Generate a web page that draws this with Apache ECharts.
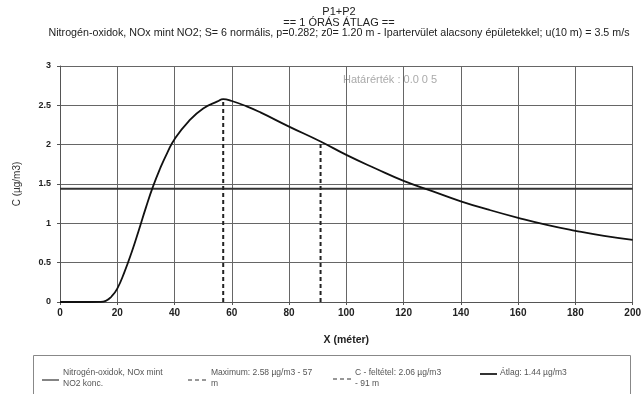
<!DOCTYPE html>
<html>
<head>
<meta charset="utf-8">
<script src="https://cdn.jsdelivr.net/npm/echarts@6/dist/echarts.min.js"></script>
<style>html,body{margin:0;padding:0;background:#fff;}#c{width:644px;height:394px;}</style>
</head>
<body>
<div id="c"></div>
<script>
const titleLines = ["P1+P2", "== 1 ÓRÁS ÁTLAG ==", "Nitrogén-oxidok, NOx mint NO2; S= 6 normális, p=0.282; z0= 1.20 m - Ipartervület alacsony épületekkel; u(10 m) = 3.5 m/s"];
const distances = [0, 10, 14, 16, 18, 20, 22.5, 25, 27.5, 30, 32.5, 35, 37.5, 40, 45, 50, 55, 57, 60, 65, 70, 80, 91, 100, 110, 120, 130, 140, 150, 160, 170, 180, 190, 200];
const concentrations = [0, 0, 0.002, 0.015, 0.07, 0.17, 0.38, 0.63, 0.91, 1.20, 1.47, 1.70, 1.90, 2.07, 2.30, 2.46, 2.55, 2.58, 2.555, 2.49, 2.41, 2.23, 2.04, 1.87, 1.70, 1.54, 1.41, 1.28, 1.17, 1.07, 0.98, 0.905, 0.84, 0.79];
const maxX = [57, 57];
const maxY = [0, 2.58];
const condX = [91, 91];
const condY = [0, 2.04];
const avgX = [0, 200];
const avgY = [1.44, 1.44];
const legendTexts = [
  ["Nitrogén-oxidok, NOx mint", "NO2 konc."],
  ["Maximum: 2.58 µg/m3 - 57", "m"],
  ["C - feltétel: 2.06 µg/m3", "- 91 m"],
  ["Átlag: 1.44 µg/m3"]
];
const limitText = "Határérték : 0.0 0 5";

const zip = (a, b) => a.map((v, i) => [v, b[i]]);
const font = "'Liberation Sans', Arial, sans-serif";
const chart = echarts.init(document.getElementById('c'), null, {renderer: 'canvas'});

const legendGraphics = [];
legendGraphics.push({type: 'rect', shape: {x: 33.5, y: 355.5, width: 597, height: 60}, style: {fill: '#fff', stroke: '#888', lineWidth: 1}});
const items = [
  {x0: 42, x1: 59, y: 380, dash: null, w: 1.2, tx: 63},
  {x0: 188, x1: 208, y: 380, dash: [4, 3], w: 1.2, tx: 211},
  {x0: 333, x1: 352, y: 379, dash: [4, 3], w: 1.2, tx: 355},
  {x0: 480, x1: 497, y: 374, dash: null, w: 2, tx: 500}
];
items.forEach((it, i) => {
  legendGraphics.push({type: 'line', shape: {x1: it.x0, y1: it.y, x2: it.x1, y2: it.y}, style: {stroke: '#333', lineWidth: it.w, lineDash: it.dash}});
  legendTexts[i].forEach((t, j) => {
    legendGraphics.push({type: 'text', x: it.tx, y: 368 + j * 11, style: {text: t, fill: '#555', font: '8.5px ' + font}});
  });
});

const titleGraphics = titleLines.map((t, i) => ({
  type: 'text', x: 339, y: 6 + i * 11,
  style: {text: t, fill: '#222', font: (i === 2 ? '10.7px ' : '11px ') + font, align: 'center'}
}));

chart.setOption({
  animation: false,
  backgroundColor: '#fff',
  grid: {left: 60, right: 7, top: 66, bottom: 92, show: false},
  xAxis: {
    type: 'value', min: 0, max: 200, interval: 20,
    name: 'X (méter)', nameLocation: 'middle', nameGap: 33,
    nameTextStyle: {fontFamily: font, fontSize: 10.5, color: '#222', fontWeight: 'bold'},
    axisLine: {show: true, onZero: false, lineStyle: {color: '#555', width: 1}},
    axisTick: {show: true, length: 3, lineStyle: {color: '#555'}},
    axisLabel: {fontFamily: font, fontSize: 10, color: '#222', fontWeight: 'bold', margin: 6},
    splitLine: {show: true, lineStyle: {color: '#666', width: 1}}
  },
  yAxis: {
    type: 'value', min: 0, max: 3, interval: 0.5,
    name: 'C (µg/m3)', nameLocation: 'middle', nameGap: 38, nameRotate: 90,
    nameTextStyle: {fontFamily: font, fontSize: 10, color: '#333'},
    axisLine: {show: true, onZero: false, lineStyle: {color: '#555', width: 1}},
    axisTick: {show: true, length: 3, lineStyle: {color: '#555'}},
    axisLabel: {fontFamily: font, fontSize: 9, color: '#222', fontWeight: 'bold', margin: 9},
    splitLine: {show: true, lineStyle: {color: '#666', width: 1}}
  },
  series: [
    {type: 'line', data: zip(avgX, avgY), showSymbol: false, symbol: 'none', lineStyle: {color: '#333', width: 2}, z: 3},
    {type: 'line', data: zip(maxX, maxY), showSymbol: false, symbol: 'none', lineStyle: {color: '#222', width: 2, type: [4, 3]}, z: 4},
    {type: 'line', data: zip(condX, condY), showSymbol: false, symbol: 'none', lineStyle: {color: '#222', width: 2, type: [4, 3]}, z: 4},
    {type: 'line', data: zip(distances, concentrations), smooth: 0.5, showSymbol: false, symbol: 'none', lineStyle: {color: '#111', width: 1.8}, z: 5}
  ],
  graphic: [
    ...titleGraphics,
    {type: 'text', x: 343, y: 74, style: {text: limitText, fill: '#aaa', font: '11px ' + font}},
    ...legendGraphics
  ]
});
</script>
</body>
</html>
